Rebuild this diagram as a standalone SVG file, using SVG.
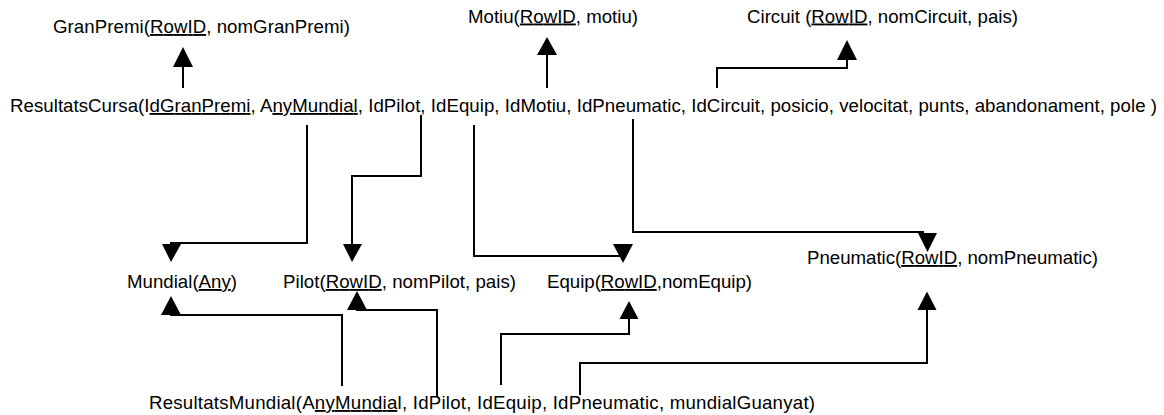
<svg xmlns="http://www.w3.org/2000/svg" width="1164" height="415" viewBox="0 0 1164 415">
  <style>
    text { font-family: "Liberation Sans", Arial, Helvetica, sans-serif; font-size: 18.67px; fill: #000; }
    .u { text-decoration: underline; }
    .link { fill: none; stroke: #000; stroke-width: 2; stroke-linejoin: miter; }
    .head { fill: #000; stroke: none; }
  </style>
  <rect width="1164" height="415" fill="#fff"/>

  <!-- relation schemas -->
  <g id="granpremi">
    <text x="53" y="33" textLength="297">GranPremi(<tspan class="u">RowID</tspan>, nomGranPremi)</text>
  </g>
  <g id="motiu">
    <text x="468" y="22.5" textLength="170">Motiu(<tspan class="u">RowID</tspan>, motiu)</text>
  </g>
  <g id="circuit">
    <text x="747" y="22.5" textLength="271">Circuit (<tspan class="u">RowID</tspan>, nomCircuit, pais)</text>
  </g>
  <g id="resultatscursa">
    <text x="10" y="112" textLength="1147">ResultatsCursa(I<tspan class="u">dGranPremi</tspan>, A<tspan class="u">nyMundial</tspan>, IdPilot, IdEquip, IdMotiu, IdPneumatic, IdCircuit, posicio, velocitat, punts, abandonament, pole )</text>
  </g>
  <g id="mundial">
    <text x="127" y="288" textLength="110">Mundial(<tspan class="u">Any</tspan>)</text>
  </g>
  <g id="pilot">
    <text x="283" y="288" textLength="233">Pilot(<tspan class="u">RowID</tspan>, nomPilot, pais)</text>
  </g>
  <g id="equip">
    <text x="547" y="288" textLength="205">Equip(<tspan class="u">RowID</tspan>,nomEquip)</text>
  </g>
  <g id="pneumatic">
    <text x="807" y="264" textLength="291">Pneumatic(<tspan class="u">RowID</tspan>, nomPneumatic)</text>
  </g>
  <g id="resultatsmundial">
    <text x="149" y="409" textLength="666">ResultatsMundial(A<tspan class="u">nyMundia</tspan>l, IdPilot, IdEquip, IdPneumatic, mundialGuanyat)</text>
  </g>

  <!-- foreign-key references -->
  <g id="connectors">
    <!-- ResultatsCursa -> GranPremi -->
    <path class="link" d="M183,88 V66"/>
    <polygon class="head" points="173,67 193,67 183,47"/>
    <!-- ResultatsCursa -> Motiu -->
    <path class="link" d="M547,88 V54"/>
    <polygon class="head" points="537,55 557,55 547,37"/>
    <!-- ResultatsCursa -> Circuit -->
    <path class="link" d="M717,88 V68 H847 V59"/>
    <polygon class="head" points="837,60 857,60 847,40"/>
    <!-- ResultatsCursa -> Mundial -->
    <path class="link" d="M307,125 V243 H171 V245"/>
    <polygon class="head" points="162,244 181,244 171,262"/>
    <!-- ResultatsCursa -> Pilot -->
    <path class="link" d="M421,115 V176 H352 V245"/>
    <polygon class="head" points="343,244 362,244 352,262"/>
    <!-- ResultatsCursa -> Equip -->
    <path class="link" d="M474,125 V256 H620"/>
    <polygon class="head" points="613,244 633,244 623,263"/>
    <!-- ResultatsCursa -> Pneumatic -->
    <path class="link" d="M633,119 V232 H924"/>
    <polygon class="head" points="918,233 937,233 927.5,252"/>
    <!-- ResultatsMundial -> Mundial -->
    <path class="link" d="M342,386 V315 H171 V313"/>
    <polygon class="head" points="161,315 181,315 171,296"/>
    <!-- ResultatsMundial -> Pilot -->
    <path class="link" d="M437,397 V310 H357 V308"/>
    <polygon class="head" points="347,310 367,310 357,291"/>
    <!-- ResultatsMundial -> Equip -->
    <path class="link" d="M501,385 V334 H629 V318"/>
    <polygon class="head" points="619.5,319 638.5,319 629,301"/>
    <!-- ResultatsMundial -> Pneumatic -->
    <path class="link" d="M580,395 V363 H927 V309"/>
    <polygon class="head" points="917.5,310 936.5,310 927,291.5"/>
  </g>
</svg>
